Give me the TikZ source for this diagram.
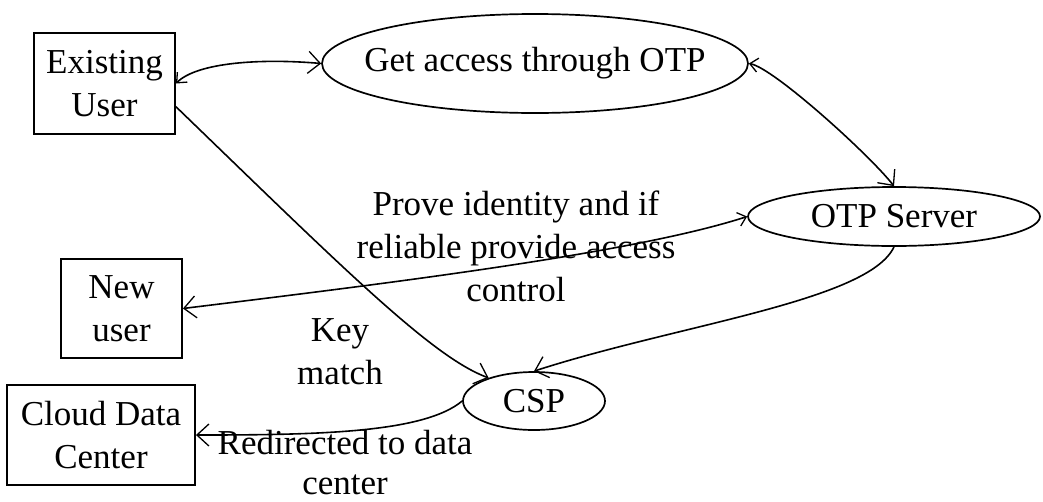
\documentclass[tikz,border=0pt]{standalone}
\usepackage{fontspec}
\setmainfont{Liberation Serif}
\usetikzlibrary{shapes.geometric,arrows.meta}
\begin{document}
\begin{tikzpicture}[x=1pt,y=1pt,
  txt/.style={font=\fontsize{35}{43}\selectfont, align=center, inner sep=0pt},
  boxnode/.style={draw, line width=1.9pt, rectangle, inner sep=0pt, txt},
  ellnode/.style={draw, line width=1.7pt, ellipse, inner sep=0pt},
  conn/.style={line width=1.6pt, arrows={-Straight Barb[length=12pt,width=22pt,line width=1.3pt]}},
  biconn/.style={line width=1.6pt, arrows={Straight Barb[length=8pt,width=14pt,line width=1.3pt]-Straight Barb[length=12pt,width=22pt,line width=1.3pt]}}
]
\useasboundingbox (0,0) rectangle (1043,-501);
% boxes
\node[boxnode, minimum width=141pt, minimum height=101pt] (eu) at (104.5,-83.5) {Existing\\User};
\node[boxnode, minimum width=121pt, minimum height=99pt] (nu) at (121.5,-308.5) {New\\user};
\node[boxnode, minimum width=188pt, minimum height=100pt] (cdc) at (101,-435) {Cloud Data\\Center};
% ellipses
\node[ellnode, minimum width=426pt, minimum height=99pt] (ga) at (535,-63.5) {};
\node[txt] at (ga.center) {Get access through OTP};
\node[ellnode, minimum width=292pt, minimum height=59pt] (otp) at (894,-216.5) {};
\node[txt] at (otp.center) {OTP Server};
\node[ellnode, minimum width=142pt, minimum height=58pt] (csp) at (534,-401) {};
\node[txt] at (csp.center) {CSP};
% labels
\node[txt] (lprove) at (516,-246) {Prove identity and if\\reliable provide access\\control};
\node[txt] (lkey) at (340,-352) {Key\\match};
\node[txt, font=\fontsize{35}{40}\selectfont] (lred) at (345,-463) {Redirected to data\\center};
% connectors
\draw[biconn] (eu.east) .. controls +(45:30) and +(175:60) .. (ga.west);
\draw[biconn] (ga.east) .. controls +(-10:25) and +(128:40) .. (otp.north);
\draw[biconn] (otp.west) .. controls +(198:120) and +(7:200) .. (nu.east);
\draw[conn] (eu.-18) .. controls +(-44:230) and +(160:60) .. (csp.153);
\draw[conn] (otp.south) .. controls +(245:60) and +(18:150) .. (csp.north);
\draw[conn] (csp.west) .. controls +(220:50) and +(0:120) .. (cdc.east);
\end{tikzpicture}
\end{document}
